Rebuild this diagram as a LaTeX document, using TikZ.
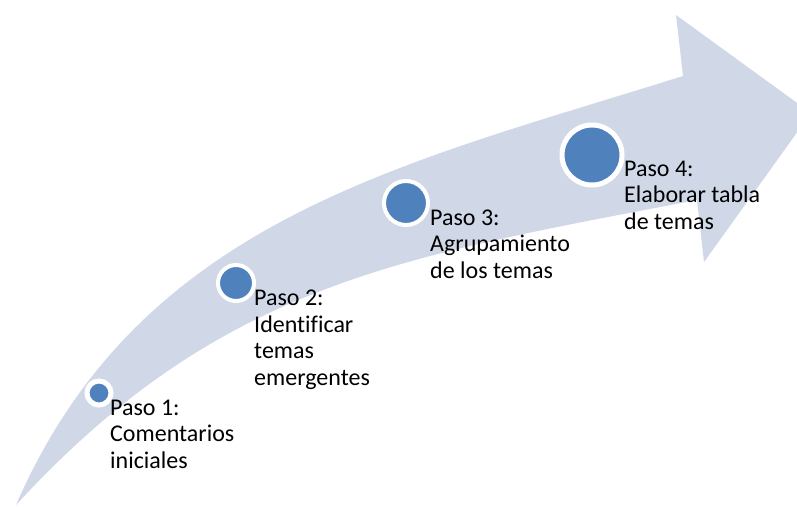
\documentclass[tikz,border=0pt]{standalone}
\usepackage{fontspec}
\setmainfont{Carlito}[Ligatures={TeX,NoCommon}]
\definecolor{bandcol}{HTML}{D0D8E8}
\definecolor{dotcol}{HTML}{4F81BD}
\tikzset{
  dot/.style={circle, fill=dotcol, draw=white, line width=#1, inner sep=0pt},
  steptext/.style={anchor=base west, align=left, inner sep=0pt,
    font=\fontsize{24}{26.5}\selectfont, text=black}
}
\begin{document}
\begin{tikzpicture}[x=1pt,y=-1pt]
\useasboundingbox (0,0) rectangle (797,506);
\begin{scope}
\clip (0,0) rectangle (797,506);
\fill[bandcol] (16,505) .. controls (140,220) and (400,165) .. (683,76)
  -- (676,15) -- (811,113) -- (704,262) -- (697,200)
  .. controls (400,257) and (220,283) .. (16,505) -- cycle;
\end{scope}
\node[dot=5pt, minimum size=24pt] (c1) at (99,393) {};
\node[dot=4pt, minimum size=36pt] (c2) at (236,283) {};
\node[dot=4pt, minimum size=44pt] (c3) at (406,203) {};
\node[dot=5pt, minimum size=60pt] (c4) at (592,155) {};
\node[steptext] (t1) at (110,468) {Paso 1:\\Comentarios\\iniciales};
\node[steptext] (t2) at (254,385) {Paso 2:\\Identificar\\temas\\emergentes};
\node[steptext] (t3) at (430,278) {Paso 3:\\Agrupamiento\\de los temas};
\node[steptext] (t4) at (624,229) {Paso 4:\\Elaborar tabla\\de temas};
\end{tikzpicture}
\end{document}
